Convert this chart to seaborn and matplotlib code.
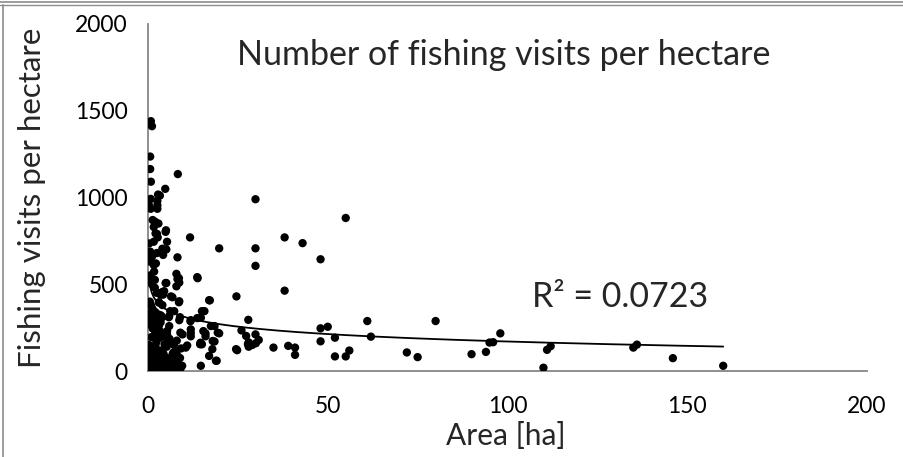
import numpy as np
import pandas as pd
import matplotlib
matplotlib.use("Agg")
import matplotlib.pyplot as plt
from matplotlib.lines import Line2D
import seaborn as sns

# ---- data ----
area_ha = [
    # sparse part (x >= 10)
    11.7, 13.7, 19.8, 29.9, 29.9, 29.9, 38.0, 43.0, 48.0, 55.0, 38.0, 24.6,
    27.9, 19.8, 18.5, 18.5, 26.0, 29.9, 30.8, 28.0, 29.0, 28.0, 30.0, 24.8,
    19.1, 34.9, 39.0, 40.9, 40.9, 48.0, 50.0, 48.0, 52.0, 52.0, 55.0, 56.0,
    61.0, 62.0, 72.0, 75.0, 80.0, 90.0, 94.0, 95.0, 96.0, 98.0, 110.0, 111.0,
    112.0, 135.0, 136.0, 146.0, 160.0,
    17.0, 15.7, 14.7, 11.9, 11.9, 11.9, 11.9, 17.5, 16.0, 16.0, 19.4, 27.3,
    27.8, 14.5, 15.0, 18.0, 10.5, 17.0, 18.9, 14.7, 24.5, 13.8, 17.2, 15.0,
    13.7, 11.8, 15.4, 10.9, 17.9, 14.6,
    # dense part, upper values
    0.8, 1.1, 0.6, 0.6, 8.3, 0.8, 4.8, 2.8, 3.3, 0.75, 0.2, 2.6, 2.6, 2.6,
    0.75, 1.3, 2.0, 1.6, 2.9, 5.0, 2.5, 2.7, 2.1, 4.9, 0.3, 1.6, 5.3, 4.0,
    5.1, 0.6, 1.1, 4.2, 2.5, 8.2, 0.6, 1.6, 2.2, 1.7, 7.9, 8.6, 0.6, 8.7,
    0.8, 1.1, 4.9, 1.9, 1.9, 3.6, 4.5, 4.0, 6.4, 6.8, 8.7, 0.5, 0.8, 1.2,
    3.0, 4.0, 1.3, 2.0, 7.3, 0.3, 1.7, 1.0, 3.6, 4.0, 5.9, 8.7, 1.5, 2.0,
    3.0, 5.9, 9.6, 1.1, 5.1, 7.9, 8.2, 2.5, 3.5, 4.2, 8.6, 3.1, 6.2, 0.4,
    2.5, 3.0, 5.8, 8.9, 0.6, 1.6, 3.5, 9.0, 5.3, 5.8, 3.1, 7.0, 8.0,
    # dense part, low values
    0.2, 0.4, 0.6, 0.8, 1.0, 1.2, 1.4, 1.6, 1.8, 2.0, 2.2, 2.4, 2.6, 2.8,
    3.0, 3.2, 3.4, 3.6, 3.8, 4.0, 4.2, 4.4, 4.6, 4.8, 5.0, 5.3, 5.6, 5.9,
    6.2, 6.6, 7.0, 7.4, 7.8, 8.2, 8.6, 9.0, 1.1, 2.7, 0.5, 6.8, 3.9, 1.5,
    5.2, 0.3, 2.3, 4.6, 7.5, 8.9, 9.5, 0.9, 2.0, 3.3, 1.3, 6.0, 4.1, 7.2,
    8.0, 9.2, 0.2, 5.3, 0.5, 1.7, 2.9, 3.7, 6.4, 8.4, 0.7, 2.1, 4.3, 5.5,
]
visits_per_ha = [
    770, 541, 707, 990, 707, 606, 770, 737, 644, 882, 463, 430,
    295, 217, 259, 170, 234, 211, 179, 165, 150, 140, 160, 120,
    59, 135, 145, 135, 93, 246, 255, 171, 192, 84, 84, 118,
    288, 198, 107, 80, 288, 97, 110, 164, 166, 217, 19, 122,
    143, 135, 152, 74, 30,
    408, 345, 307, 293, 240, 220, 200, 259, 217, 200, 221, 202,
    155, 154, 154, 173, 135, 87, 59, 30, 126, 535, 407, 345,
    305, 287, 230, 147, 126, 163,
    1440, 1411, 1236, 1164, 1135, 1091, 1050, 1017, 1011, 992, 960, 980, 955, 935,
    935, 870, 860, 830, 850, 811, 790, 770, 793, 802, 735, 745, 745, 705,
    701, 688, 659, 669, 680, 655, 630, 611, 620, 573, 560, 535, 551, 510,
    527, 500, 507, 480, 525, 450, 460, 455, 430, 425, 402, 400, 380, 360,
    395, 380, 340, 340, 345, 320, 310, 300, 320, 310, 316, 293, 285, 270,
    260, 259, 211, 516, 507, 488, 530, 450, 440, 440, 396, 395, 345, 330,
    315, 325, 310, 310, 285, 290, 280, 221, 210, 175, 190, 105, 95,
    10, 25, 5, 40, 15, 60, 30, 8, 50, 20, 75, 35, 12, 55,
    28, 90, 5, 45, 18, 65, 30, 10, 50, 80, 22, 40, 8, 60,
    30, 15, 45, 25, 70, 20, 35, 12, 100, 110, 85, 95, 120, 130,
    140, 150, 165, 155, 110, 75, 30, 195, 215, 230, 245, 185, 200, 150,
    175, 130, 270, 230, 55, 65, 20, 5, 60, 40, 120, 140, 100, 35,
]
# logarithmic trend line: y = a*ln(x) + b
trend_a = -61.9
trend_b = 455.0
r2_label = "R\u00b2 = 0.0723"
title = "Number of fishing visits per hectare"
x_label = "Area [ha]"
y_label = "Fishing visits per hectare"
x_ticks = [0, 50, 100, 150, 200]
y_ticks = [0, 500, 1000, 1500, 2000]

df = pd.DataFrame({"area": area_ha, "visits": visits_per_ha})
trend_x = np.linspace(0.25, max(area_ha), 400)
trend_df = pd.DataFrame({"area": trend_x, "visits": trend_a * np.log(trend_x) + trend_b})

sns.set_theme(style="white")
plt.rcParams["font.family"] = ["Lato", "DejaVu Sans"]

W, H = 904, 457
fig = plt.figure(figsize=(W / 100, H / 100), dpi=100)
ax = fig.add_axes([148 / W, 1 - 371 / H, (867 - 148) / W, (371 - 24) / H])

sns.scatterplot(data=df, x="area", y="visits", ax=ax, color="black", s=36,
                edgecolor="none", linewidth=0, zorder=3)
sns.lineplot(data=trend_df, x="area", y="visits", ax=ax, color="black",
             linewidth=1.3, zorder=4)

grey = "#868686"
ax.set_xlim(0, 200)
ax.set_ylim(0, 2000)
ax.set_xticks(x_ticks)
ax.set_yticks(y_ticks)
for s in ["top", "right"]:
    ax.spines[s].set_visible(False)
for s in ["left", "bottom"]:
    ax.spines[s].set_color(grey)
    ax.spines[s].set_linewidth(1.3)
ax.tick_params(axis="both", which="major", direction="out", length=4,
               width=1.3, color=grey, labelsize=16.5, labelcolor="black")
ax.tick_params(axis="x", pad=14)
ax.tick_params(axis="y", pad=10.5)
ax.set_xlabel(x_label, fontsize=21.5)
ax.set_ylabel(y_label, fontsize=22.5)
ax.xaxis.label.set_va("center")
ax.xaxis.set_label_coords(0.497, -0.187)
ax.yaxis.set_label_coords(-0.142, 0.5)

fig.text(504 / W, 1 - 55 / H, title, ha="center", va="center", fontsize=24.5)
ax.text(0.656, 0.213, r2_label, transform=ax.transAxes, ha="center",
        va="center", fontsize=24.5)

# chart frame
fig.add_artist(Line2D([0, 1], [1 - 2 / H, 1 - 2 / H], color="#8c8c8c", lw=1.2,
                      transform=fig.transFigure))
fig.add_artist(Line2D([0, 1], [1 - 5 / H, 1 - 5 / H], color="#8c8c8c", lw=1.0,
                      transform=fig.transFigure))
fig.add_artist(Line2D([3 / W, 3 / W], [0, 1 - 5 / H], color="#8c8c8c", lw=1.2,
                      transform=fig.transFigure))

fig.savefig("out.png", dpi=100)
